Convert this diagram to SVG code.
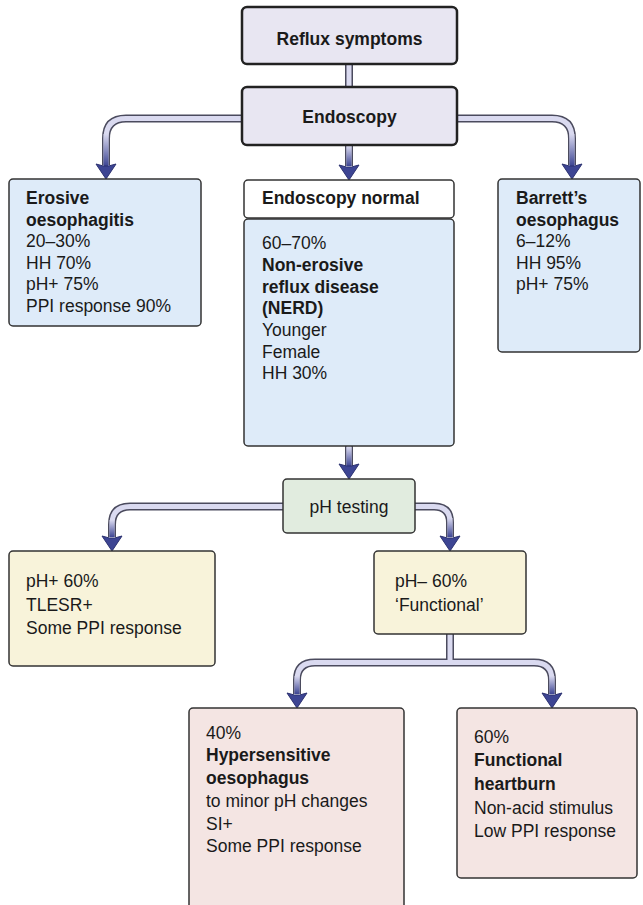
<svg xmlns="http://www.w3.org/2000/svg" xmlns:xlink="http://www.w3.org/1999/xlink" width="643" height="905" viewBox="0 0 643 905">
<style>
.t{font-family:"Liberation Sans",Arial,sans-serif;font-size:17.5px;fill:#1a1a1a}
.b{font-weight:bold}
.c{text-anchor:middle}
.box{stroke:#333;stroke-width:1.5}
.top{fill:#e8e6f2;stroke:#222;stroke-width:2.5}
.blue{fill:#deebf9}
.white{fill:#ffffff}
.green{fill:#e1ecdf}
.yellow{fill:#f8f3da}
.pink{fill:#f4e5e3}
.po{fill:none;stroke:#4b4b5e;stroke-width:8;stroke-linejoin:round}
.pi{fill:none;stroke:#dadaf0;stroke-width:5;stroke-linejoin:round}
.gr{fill:url(#g)}
.ah{fill:#3d4593;stroke:#2b3170;stroke-width:1}
</style>
<defs>
<linearGradient id="g" x1="0" y1="0" x2="0" y2="1">
<stop offset="0" stop-color="#dadaf0"/>
<stop offset="1" stop-color="#3d4593"/>
</linearGradient>
<path id="ah" class="ah" d="M0,0 L-10,-15 L-2.5,-13 L2.5,-13 L10,-15 Z"/>
</defs>

<g id="connectors">
<path class="po" d="M349,64 V88"/>
<path class="po" d="M242,118.5 H126 Q106,118.5 106,138.5 V165"/>
<path class="po" d="M349,145 V166"/>
<path class="po" d="M457,118.5 H552 Q572,118.5 572,138.5 V165"/>
<path class="po" d="M349,446 V466"/>
<path class="po" d="M283,506.5 H130 Q112,506.5 112,524.5 V537"/>
<path class="po" d="M415,506.5 H434 Q450,506.5 450,522.5 V537"/>
<path class="po" d="M450,634 V662.5"/>
<path class="po" d="M297,694 V680 Q297,662.5 315,662.5 H534 Q552,662.5 552,680 V694"/>

<path class="pi" d="M349,64 V88"/>
<path class="pi" d="M242,118.5 H126 Q106,118.5 106,138.5 V165"/>
<path class="pi" d="M349,145 V166"/>
<path class="pi" d="M457,118.5 H552 Q572,118.5 572,138.5 V165"/>
<path class="pi" d="M349,446 V466"/>
<path class="pi" d="M283,506.5 H130 Q112,506.5 112,524.5 V537"/>
<path class="pi" d="M415,506.5 H434 Q450,506.5 450,522.5 V537"/>
<path class="pi" d="M450,634 V662.5"/>
<path class="pi" d="M297,694 V680 Q297,662.5 315,662.5 H534 Q552,662.5 552,680 V694"/>

<rect class="gr" x="103.5" y="134" width="5" height="32"/>
<rect class="gr" x="346.5" y="146" width="5" height="20"/>
<rect class="gr" x="569.5" y="134" width="5" height="32"/>
<rect class="gr" x="346.5" y="447" width="5" height="19"/>
<rect class="gr" x="109.5" y="520" width="5" height="17"/>
<rect class="gr" x="447.5" y="518" width="5" height="19"/>
<rect class="gr" x="294.5" y="676" width="5" height="18"/>
<rect class="gr" x="549.5" y="676" width="5" height="18"/>

<use xlink:href="#ah" href="#ah" x="106" y="179"/>
<use xlink:href="#ah" href="#ah" x="349" y="180"/>
<use xlink:href="#ah" href="#ah" x="572" y="179"/>
<use xlink:href="#ah" href="#ah" x="349" y="479"/>
<use xlink:href="#ah" href="#ah" x="112" y="551"/>
<use xlink:href="#ah" href="#ah" x="450" y="551"/>
<use xlink:href="#ah" href="#ah" x="297" y="708"/>
<use xlink:href="#ah" href="#ah" x="552" y="708"/>
</g>

<g id="reflux">
<rect class="top" x="242" y="7" width="215" height="57" rx="5"/>
<text class="t b c" x="349.5" y="45">Reflux symptoms</text>
</g>

<g id="endoscopy">
<rect class="top" x="242" y="87" width="215" height="58" rx="5"/>
<text class="t b c" x="349.5" y="123">Endoscopy</text>
</g>

<g id="erosive">
<rect class="box blue" x="9" y="179" width="192" height="147" rx="4"/>
<text class="t b" x="26" y="204">Erosive</text>
<text class="t b" x="26" y="226">oesophagitis</text>
<text class="t" x="26" y="247">20–30%</text>
<text class="t" x="26" y="269">HH 70%</text>
<text class="t" x="26" y="290">pH+ 75%</text>
<text class="t" x="26" y="312">PPI response 90%</text>
</g>

<g id="endo-normal">
<rect class="box white" x="244" y="180" width="210" height="38" rx="4"/>
<text class="t b" x="262" y="204">Endoscopy normal</text>
</g>

<g id="nerd">
<rect class="box blue" x="244" y="219" width="210" height="227" rx="4"/>
<text class="t" x="262" y="249">60–70%</text>
<text class="t b" x="262" y="271">Non-erosive</text>
<text class="t b" x="262" y="293">reflux disease</text>
<text class="t b" x="262" y="314">(NERD)</text>
<text class="t" x="262" y="336">Younger</text>
<text class="t" x="262" y="358">Female</text>
<text class="t" x="262" y="379">HH 30%</text>
</g>

<g id="barretts">
<rect class="box blue" x="498" y="179" width="142" height="173" rx="4"/>
<text class="t b" x="516" y="204">Barrett’s</text>
<text class="t b" x="516" y="226">oesophagus</text>
<text class="t" x="516" y="247">6–12%</text>
<text class="t" x="516" y="269">HH 95%</text>
<text class="t" x="516" y="290">pH+ 75%</text>
</g>

<g id="ph-testing">
<rect class="box green" x="283" y="479" width="132" height="54" rx="4"/>
<text class="t c" x="349" y="513">pH testing</text>
</g>

<g id="ph-pos">
<rect class="box yellow" x="9" y="551" width="206" height="115" rx="4"/>
<text class="t" x="26" y="587">pH+ 60%</text>
<text class="t" x="26" y="611">TLESR+</text>
<text class="t" x="26" y="634">Some PPI response</text>
</g>

<g id="ph-neg">
<rect class="box yellow" x="374" y="551" width="152" height="83" rx="4"/>
<text class="t" x="395" y="587">pH– 60%</text>
<text class="t" x="395" y="611">‘Functional’</text>
</g>

<g id="hypersensitive">
<rect class="box pink" x="189" y="708" width="215" height="210" rx="4"/>
<text class="t" x="206" y="739">40%</text>
<text class="t b" x="206" y="761">Hypersensitive</text>
<text class="t b" x="206" y="784">oesophagus</text>
<text class="t" x="206" y="807">to minor pH changes</text>
<text class="t" x="206" y="830">SI+</text>
<text class="t" x="206" y="852">Some PPI response</text>
</g>

<g id="functional">
<rect class="box pink" x="457" y="708" width="180" height="170" rx="4"/>
<text class="t" x="474" y="743">60%</text>
<text class="t b" x="474" y="766">Functional</text>
<text class="t b" x="474" y="790">heartburn</text>
<text class="t" x="474" y="814">Non-acid stimulus</text>
<text class="t" x="474" y="837">Low PPI response</text>
</g>
</svg>
